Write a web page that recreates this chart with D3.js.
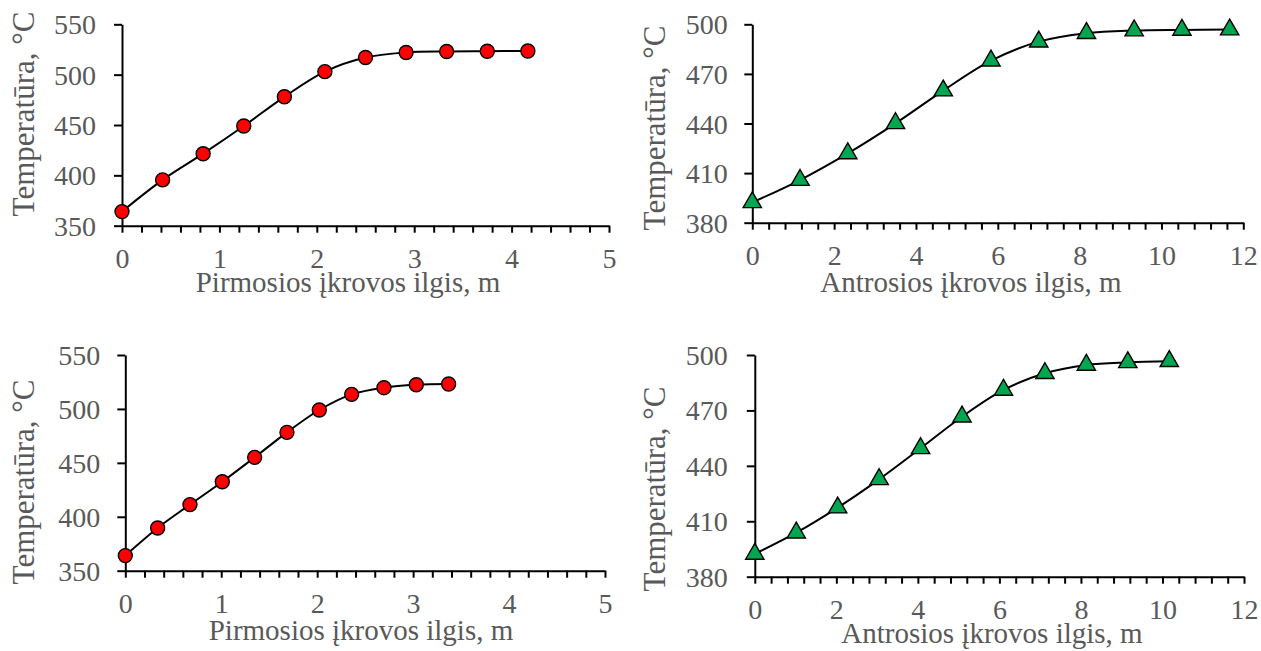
<!DOCTYPE html>
<html>
<head>
<meta charset="utf-8">
<script src="https://cdn.jsdelivr.net/npm/d3@7"></script>
<style>
  body { margin: 0; background: #fff; }
  svg { display: block; }
  text { font-family: "Liberation Serif", "Times New Roman", serif; fill: #595959; }
</style>
</head>
<body>
<div id="chart"></div>
<script>
// first charge (red circles), two variants
const firstLen1 = [0, 0.417, 0.833, 1.25, 1.667, 2.083, 2.5, 2.917, 3.333, 3.75, 4.167];
const firstTemp1 = [364, 395.5, 421.5, 449, 478, 503, 517, 522, 523, 523.3, 523.5];
const firstLen2 = [0, 0.337, 0.674, 1.011, 1.348, 1.685, 2.022, 2.359, 2.696, 3.033, 3.37];
const firstTemp2 = [364, 389.6, 411.3, 432.5, 455.1, 478.3, 499, 513.5, 519.7, 522.4, 523.1];

// second charge (green triangles), two variants
const secondLen1 = [0, 1.167, 2.333, 3.5, 4.667, 5.833, 7.0, 8.167, 9.333, 10.5, 11.667];
const secondTemp1 = [392.3, 405.8, 421.9, 440.1, 459.9, 478, 489.5, 494.6, 496.2, 496.6, 496.8];
const secondLen2 = [0, 1.017, 2.033, 3.05, 4.067, 5.083, 6.1, 7.117, 8.133, 9.15, 10.167];
const secondTemp2 = [392.3, 403.8, 417.4, 432.7, 449.5, 466.6, 481.1, 490.1, 494.6, 496, 496.6];

// axis ticks
const firstXTicks = [0, 1, 2, 3, 4, 5];
const secondXTicks = [0, 2, 4, 6, 8, 10, 12];
const firstYTicks = [350, 400, 450, 500, 550];
const secondYTicks = [380, 410, 440, 470, 500];

const yTitle = "Temperatūra, °C";
const firstXTitle = "Pirmosios įkrovos ilgis, m";
const secondXTitle = "Antrosios įkrovos ilgis, m";

const width = 1261, height = 651;
const tickFont = 28, xTitleFont = 29, yTitleFont = 31;

// layout of each panel, in page pixels
const panels = [
  { xs: firstLen1, ys: firstTemp1, xTicks: firstXTicks, minor: 0.2, yTicks: firstYTicks,
    left: 122, right: 609, top: 24.3, bottom: 225.7, pad: 18,
    marker: "circle", xTitle: firstXTitle, xTitleX: 348, xTitleDy: 66, yTitleX: 34, yTitleY: 114 },
  { xs: secondLen1, ys: secondTemp1, xTicks: secondXTicks, minor: 0.4, yTicks: secondYTicks,
    left: 752.3, right: 1243.3, top: 24.3, bottom: 222.7, pad: 16.5,
    marker: "triangle", xTitle: secondXTitle, xTitleX: 971, xTitleDy: 69, yTitleX: 665, yTitleY: 128 },
  { xs: firstLen2, ys: firstTemp2, xTicks: firstXTicks, minor: 0.2, yTicks: firstYTicks,
    left: 125.3, right: 605, top: 355, bottom: 570.7, pad: 17,
    marker: "circle", xTitle: firstXTitle, xTitleX: 361, xTitleDy: 69, yTitleX: 34, yTitleY: 482 },
  { xs: secondLen2, ys: secondTemp2, xTicks: secondXTicks, minor: 0.4, yTicks: secondYTicks,
    left: 754.8, right: 1244, top: 355, bottom: 576.7, pad: 19,
    marker: "triangle", xTitle: secondXTitle, xTitleX: 992, xTitleDy: 66, yTitleX: 665, yTitleY: 489 }
];

const svg = d3.select("#chart").append("svg")
  .attr("width", width)
  .attr("height", height);

panels.forEach(p => {
  const xMax = d3.max(p.xTicks);
  const x = d3.scaleLinear().domain([0, xMax]).range([p.left, p.right]);
  const y = d3.scaleLinear().domain(d3.extent(p.yTicks)).range([p.bottom, p.top]);
  const g = svg.append("g");

  // y axis with major ticks outside
  const yAxis = g.append("g")
    .attr("transform", `translate(${p.left},0)`)
    .call(d3.axisLeft(y).tickValues(p.yTicks).tickSize(8).tickSizeOuter(0).tickPadding(p.pad));
  yAxis.selectAll("text").attr("dy", "0.34em").style("font-size", tickFont + "px");

  // x axis: minor ticks every step, labels on the major ones
  const minorTicks = d3.range(0, Math.round(xMax / p.minor) + 1).map(i => +(i * p.minor).toFixed(2));
  g.append("g")
    .attr("transform", `translate(0,${p.bottom})`)
    .call(d3.axisBottom(x).tickValues(minorTicks).tickSize(7).tickSizeOuter(0).tickFormat(""));
  const xLabels = g.append("g")
    .attr("transform", `translate(0,${p.bottom})`)
    .call(d3.axisBottom(x).tickValues(p.xTicks).tickSize(0).tickFormat(d3.format("d")));
  xLabels.select(".domain").remove();
  xLabels.selectAll("text").attr("y", 42).attr("dy", 0).style("font-size", tickFont + "px");

  g.selectAll(".domain, .tick line")
    .attr("stroke", "#000")
    .attr("stroke-width", 2);

  // axis titles
  g.append("text")
    .attr("x", p.xTitleX)
    .attr("y", p.bottom + p.xTitleDy)
    .attr("text-anchor", "middle")
    .style("font-size", xTitleFont + "px")
    .text(p.xTitle);
  g.append("text")
    .attr("transform", `translate(${p.yTitleX},${p.yTitleY}) rotate(-90)`)
    .attr("text-anchor", "middle")
    .style("font-size", yTitleFont + "px")
    .text(yTitle);

  // smoothed line
  const data = p.xs.map((v, i) => [v, p.ys[i]]);
  const line = d3.line()
    .x(d => x(d[0]))
    .y(d => y(d[1]))
    .curve(d3.curveCatmullRom.alpha(0.5));
  g.append("path")
    .datum(data)
    .attr("fill", "none")
    .attr("stroke", "#000")
    .attr("stroke-width", 2)
    .attr("d", line);

  // markers
  if (p.marker === "circle") {
    g.selectAll(".pt").data(data).join("circle")
      .attr("cx", d => x(d[0]))
      .attr("cy", d => y(d[1]))
      .attr("r", 7)
      .attr("fill", "#ff0000")
      .attr("stroke", "#000")
      .attr("stroke-width", 1.4);
  } else {
    const tri = d3.symbol(d3.symbolTriangle, 145);
    g.selectAll(".pt").data(data).join("path")
      .attr("transform", d => `translate(${x(d[0])},${y(d[1])})`)
      .attr("d", tri)
      .attr("fill", "#00a650")
      .attr("stroke", "#000")
      .attr("stroke-width", 1.4);
  }
});
</script>
</body>
</html>
